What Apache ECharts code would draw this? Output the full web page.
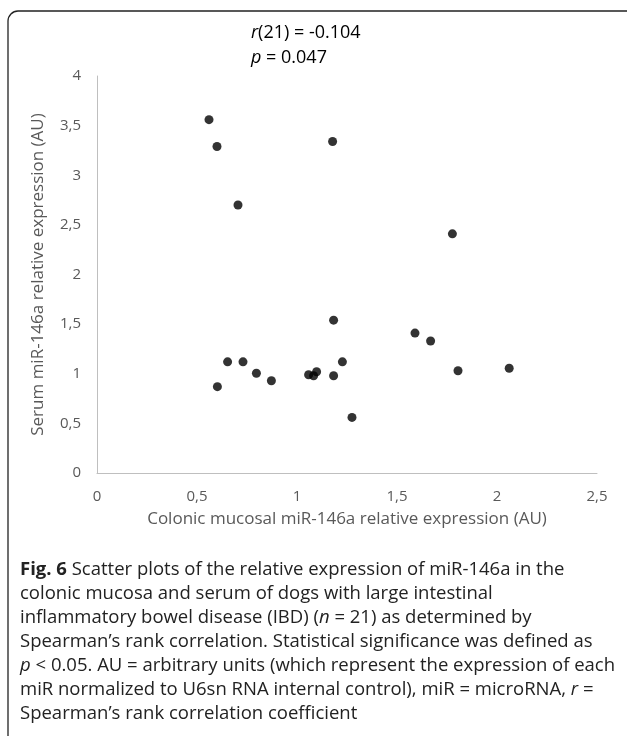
<!DOCTYPE html>
<html>
<head>
<meta charset="utf-8">
<script src="https://cdn.jsdelivr.net/npm/echarts@6/dist/echarts.min.js"></script>
<style>
  html, body { margin: 0; padding: 0; background: #fff; }
  #main { width: 627px; height: 736px; }
</style>
</head>
<body>
<div id="main"></div>
<script>
// colonic mucosal vs serum miR-146a, one point per dog (n = 21)
var colonic = [0.56, 0.60, 0.705, 1.178, 1.777, 1.183, 0.653, 0.73, 0.797, 0.872, 0.602,
               1.058, 1.083, 1.098, 1.183, 1.227, 1.275, 1.59, 1.668, 1.805, 2.061];
var serum   = [3.56, 3.29, 2.70, 3.34, 2.41, 1.54, 1.12, 1.12, 1.005, 0.93, 0.87,
               0.99, 0.98, 1.02, 0.98, 1.12, 0.56, 1.41, 1.33, 1.03, 1.055];

var xTicks = [0, 0.5, 1, 1.5, 2, 2.5];
var yTicks = [0, 0.5, 1, 1.5, 2, 2.5, 3, 3.5, 4];

var points = colonic.map(function (x, i) { return [x, serum[i]]; });

var axisFont = '"Open Sans", sans-serif';
var capFont = '"Open Sans", sans-serif';

function comma(v) { return String(v).replace('.', ','); }

var chart = echarts.init(document.getElementById('main'), null, { renderer: 'canvas' });

chart.setOption({
  backgroundColor: '#fff',
  animation: false,
  grid: { left: 97, top: 76, width: 500, height: 397 },
  xAxis: {
    type: 'value',
    min: xTicks[0], max: xTicks[xTicks.length - 1], interval: 0.5,
    name: 'Colonic mucosal miR-146a relative expression (AU)',
    nameLocation: 'middle', nameGap: 38,
    nameTextStyle: { color: '#595959', fontSize: 17, fontFamily: axisFont },
    axisLine: { show: true, lineStyle: { color: '#bfbfbf', width: 1 } },
    axisTick: { show: false },
    splitLine: { show: false },
    axisLabel: { color: '#595959', fontSize: 15, fontFamily: axisFont, margin: 16, formatter: comma }
  },
  yAxis: {
    type: 'value',
    min: yTicks[0], max: yTicks[yTicks.length - 1], interval: 0.5,
    name: 'Serum miR-146a relative expression (AU)',
    nameLocation: 'middle', nameGap: 50,
    nameTextStyle: { color: '#595959', fontSize: 17, fontFamily: axisFont },
    axisLine: { show: true, lineStyle: { color: '#bfbfbf', width: 1 } },
    axisTick: { show: false },
    splitLine: { show: false },
    axisLabel: { color: '#595959', fontSize: 15, fontFamily: axisFont, margin: 16, formatter: comma }
  },
  series: [{
    type: 'scatter',
    data: points,
    symbol: 'circle',
    symbolSize: 9,
    itemStyle: { color: '#000' }
  }],
  graphic: [
    {
      type: 'rect', silent: true,
      shape: { x: 8, y: 11, width: 800, height: 800, r: 10 },
      style: { fill: 'none', stroke: '#222', lineWidth: 1.3 }
    },
    {
      type: 'text', left: 251, top: 20,
      style: {
        text: '{i|r}(21) = -0.104\n{i|p} = 0.047',
        fontFamily: axisFont, fontSize: 18, lineHeight: 25, fill: '#000',
        rich: { i: { fontStyle: 'italic', fontFamily: axisFont, fontSize: 18 } }
      }
    },
    {
      type: 'text', left: 20, top: 558,
      style: {
        text: '{b|Fig. 6} Scatter plots of the relative expression of miR-146a in the\n' +
              'colonic mucosa and serum of dogs with large intestinal\n' +
              'inflammatory bowel disease (IBD) ({i|n} = 21) as determined by\n' +
              'Spearman\u2019s rank correlation. Statistical significance was defined as\n' +
              '{i|p} < 0.05. AU = arbitrary units (which represent the expression of each\n' +
              'miR normalized to U6sn RNA internal control), miR = microRNA, {i|r} =\n' +
              'Spearman\u2019s rank correlation coefficient',
        fontFamily: capFont, fontSize: 18.5, lineHeight: 24, fill: '#222',
        rich: {
          b: { fontWeight: 'bold', fontFamily: capFont, fontSize: 18.5, fill: '#222' },
          i: { fontStyle: 'italic', fontFamily: capFont, fontSize: 18.5, fill: '#222' }
        }
      }
    }
  ]
});
</script>
</body>
</html>
